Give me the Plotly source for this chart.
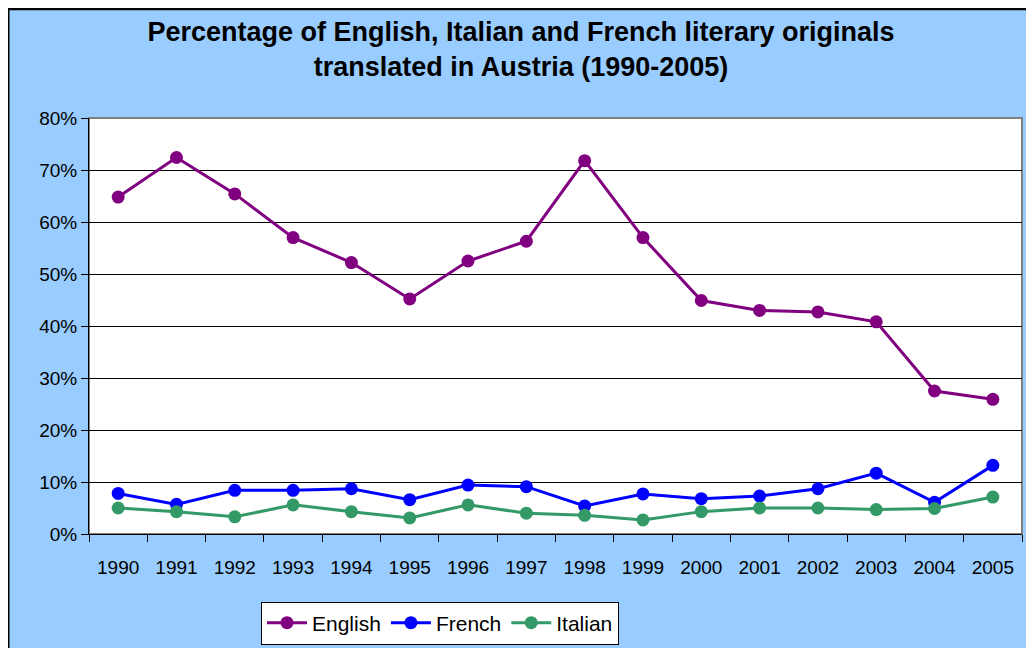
import plotly.graph_objects as go

years = ["1990", "1991", "1992", "1993", "1994", "1995", "1996", "1997",
         "1998", "1999", "2000", "2001", "2002", "2003", "2004", "2005"]
english = [64.8, 72.4, 65.4, 57.0, 52.2, 45.2, 52.5, 56.3,
           71.8, 57.0, 44.9, 43.0, 42.7, 40.8, 27.5, 25.9]
french = [7.8, 5.7, 8.4, 8.4, 8.7, 6.6, 9.4, 9.1,
          5.4, 7.7, 6.8, 7.3, 8.7, 11.7, 6.1, 13.2]
italian = [5.0, 4.3, 3.3, 5.6, 4.3, 3.1, 5.6, 4.0,
           3.6, 2.7, 4.3, 5.0, 5.0, 4.7, 4.9, 7.1]
y_ticks = [0, 10, 20, 30, 40, 50, 60, 70, 80]
y_labels = [f"{v}%" for v in y_ticks]

W, H = 1034, 648
L, R, T, B = 81, 20, 110, 119
pw, ph = W - L - R, H - T - B

fig = go.Figure()
for name, vals, col in [("English", english, "#800080"),
                        ("French", french, "#0000FF"),
                        ("Italian", italian, "#339966")]:
    fig.add_trace(go.Scatter(
        x=years, y=vals, name=name, mode="lines+markers",
        line=dict(color=col, width=3),
        marker=dict(color=col, size=13),
    ))

# dark border of the chart area
fig.add_shape(type="rect", xref="paper", yref="paper", layer="below",
              x0=(0 - L) / pw, x1=(W + 10 - L) / pw,
              y0=(H - B - (H + 10)) / ph, y1=(H - B - 0) / ph,
              fillcolor="rgba(0,0,0,0)", line=dict(color="#000000", width=3))
# white plot area with grey border
fig.add_shape(type="rect", xref="paper", yref="paper", layer="below",
              x0=0, x1=1, y0=0, y1=1,
              fillcolor="#FFFFFF", line=dict(color="#808080", width=2))

fig.update_layout(
    width=W, height=H,
    margin=dict(l=L, r=R, t=T, b=B),
    paper_bgcolor="#99CCFF",
    plot_bgcolor="rgba(0,0,0,0)",
    font=dict(family="Liberation Sans, Arial, sans-serif", size=19, color="#000000"),
    title=dict(
        text="<b>Percentage of English, Italian and French literary originals<br>translated in Austria (1990-2005)</b>",
        x=513 / W, xanchor="center", y=1 - 33 / H, yanchor="top",
        font=dict(size=27, color="#000000"),
    ),
    showlegend=True,
    legend=dict(
        orientation="h", x=(432 - L) / pw, xanchor="center",
        y=(H - B - 597) / ph, yanchor="top",
        bgcolor="#FFFFFF", bordercolor="#000000", borderwidth=1,
        font=dict(size=21), itemwidth=40,
    ),
    xaxis=dict(
        type="category", tickson="boundaries", ticks="outside", ticklen=7,
        tickcolor="#000000", showline=True, linecolor="#000000", linewidth=1,
        showgrid=False, tickfont=dict(size=19), range=[-0.5, 15.5],
        ticklabelstandoff=16,
    ),
    yaxis=dict(
        range=[0, 80], tickmode="array", tickvals=y_ticks, ticktext=y_labels,
        ticks="outside", ticklen=7, tickcolor="#000000", showline=True,
        linecolor="#000000", linewidth=1, gridcolor="#000000", gridwidth=1,
        zeroline=False, tickfont=dict(size=19),
    ),
)

fig.write_html("out.html")
